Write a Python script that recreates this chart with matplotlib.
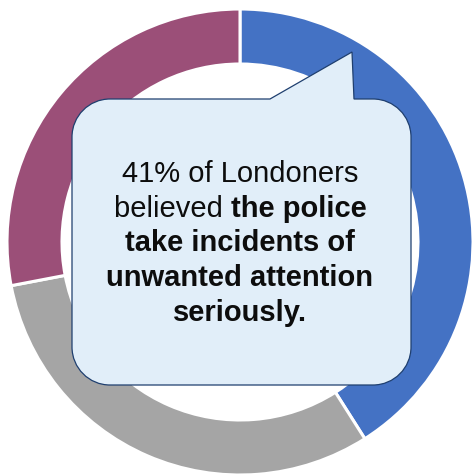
import matplotlib
matplotlib.use("Agg")
import matplotlib.pyplot as plt
from matplotlib.path import Path
from matplotlib.patches import PathPatch

labels = ["Take seriously", "Neither / don't know", "Do not take seriously"]
values = [41, 31, 28]
colors = ["#4472C4", "#A5A5A5", "#9B4F78"]

line1 = "41% of Londoners"
line2_normal = "believed "
line2_bold = "the police"
bold_lines = ["take incidents of", "unwanted attention", "seriously."]

W, H = 474, 476
fig = plt.figure(figsize=(W / 100, H / 100), dpi=100)
ax = fig.add_axes([0, 0, 1, 1])

cx, cy_img, R, ring = 240, 242, 233, 55
ax.pie(values, colors=colors, startangle=90, counterclock=False,
       radius=R, center=(cx, H - cy_img),
       wedgeprops=dict(width=ring, edgecolor="white", linewidth=2.2))
ax.set_xlim(0, W)
ax.set_ylim(0, H)
ax.set_aspect("auto")
ax.axis("off")

# Callout box (image coords -> y flipped)
L, Rt, T, B, r = 72, 411, 99, 385, 38
k = 0.5523 * r
def p(x, y):
    return (x, H - y)
verts = [
    p(270, T),
    p(352, 52),
    p(354, T),
    p(Rt - r, T),
    p(Rt - r + k, T), p(Rt, T + r - k), p(Rt, T + r),
    p(Rt, B - r),
    p(Rt, B - r + k), p(Rt - r + k, B), p(Rt - r, B),
    p(L + r, B),
    p(L + r - k, B), p(L, B - r + k), p(L, B - r),
    p(L, T + r),
    p(L, T + r - k), p(L + r - k, T), p(L + r, T),
    p(270, T),
]
codes = [Path.MOVETO, Path.LINETO, Path.LINETO, Path.LINETO,
         Path.CURVE4, Path.CURVE4, Path.CURVE4,
         Path.LINETO,
         Path.CURVE4, Path.CURVE4, Path.CURVE4,
         Path.LINETO,
         Path.CURVE4, Path.CURVE4, Path.CURVE4,
         Path.LINETO,
         Path.CURVE4, Path.CURVE4, Path.CURVE4,
         Path.CLOSEPOLY]
ax.add_patch(PathPatch(Path(verts, codes), facecolor="#E1EEF9",
                       edgecolor="#1F3F6F", linewidth=0.9, zorder=5))

fs = 21
fam = ["Liberation Sans", "DejaVu Sans"]
tc = "#0D0D0D"
ys = [174, 209, 243, 278, 313]
ax.text(cx, H - ys[0], line1, fontsize=fs, family=fam, color=tc,
        ha="center", va="center", zorder=6)

fig.canvas.draw()
rend = fig.canvas.get_renderer()
t1 = ax.text(0, H - ys[1], line2_normal, fontsize=fs, family=fam, color=tc,
             ha="left", va="center", zorder=6)
t2 = ax.text(0, H - ys[1], line2_bold, fontsize=fs, family=fam, color=tc,
             weight="bold", ha="left", va="center", zorder=6)
w1 = t1.get_window_extent(rend).width
w2 = t2.get_window_extent(rend).width
x0 = cx - (w1 + w2) / 2
t1.set_x(x0)
t2.set_x(x0 + w1)

for y, s in zip(ys[2:], bold_lines):
    ax.text(cx, H - y, s, fontsize=fs, family=fam, color=tc, weight="bold",
            ha="center", va="center", zorder=6)

fig.savefig("out.png", dpi=100)
